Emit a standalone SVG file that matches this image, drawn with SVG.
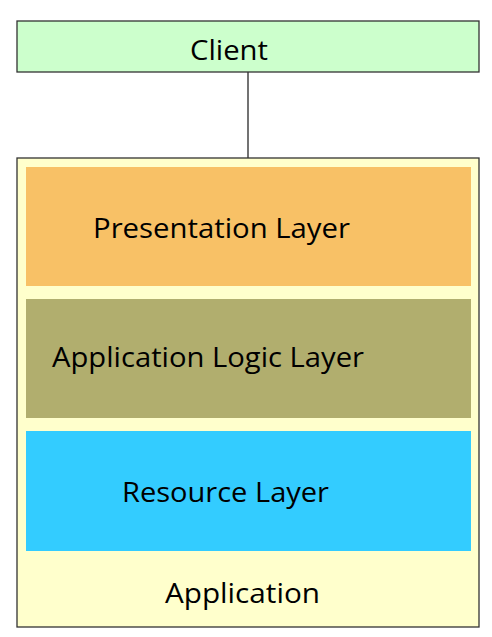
<svg xmlns="http://www.w3.org/2000/svg" width="492" height="637" viewBox="0 0 492 637">
<style>
.box{stroke:#333;stroke-width:1.3}
.lbl{font-family:"Open Sans","Liberation Sans",sans-serif;font-size:28px;fill:#000}
</style>
<rect x="0" y="0" width="492" height="637" fill="#fff"/>
<g id="connectors">
<line x1="248" y1="72" x2="248" y2="158" stroke="#444" stroke-width="1.5"/>
</g>
<g id="client">
<rect class="box" x="17" y="21" width="462" height="51" fill="#CCFFCC"/>
<text class="lbl" x="190" y="60" textLength="78" lengthAdjust="spacingAndGlyphs">Client</text>
</g>
<g id="application">
<rect class="box" x="17" y="158" width="462" height="469" fill="#FFFFCC"/>
<text class="lbl" x="165" y="603" textLength="155" lengthAdjust="spacingAndGlyphs">Application</text>
</g>
<g id="presentation">
<rect x="26" y="167" width="445" height="119" fill="#F8C166"/>
<text class="lbl" x="93" y="238" textLength="257" lengthAdjust="spacingAndGlyphs">Presentation Layer</text>
</g>
<g id="logic">
<rect x="26" y="299" width="445" height="119" fill="#B1AE6E"/>
<text class="lbl" x="52" y="367" textLength="312" lengthAdjust="spacingAndGlyphs">Application Logic Layer</text>
</g>
<g id="resource">
<rect x="26" y="431" width="445" height="120" fill="#33CCFF"/>
<text class="lbl" x="122" y="502" textLength="207" lengthAdjust="spacingAndGlyphs">Resource Layer</text>
</g>
</svg>
